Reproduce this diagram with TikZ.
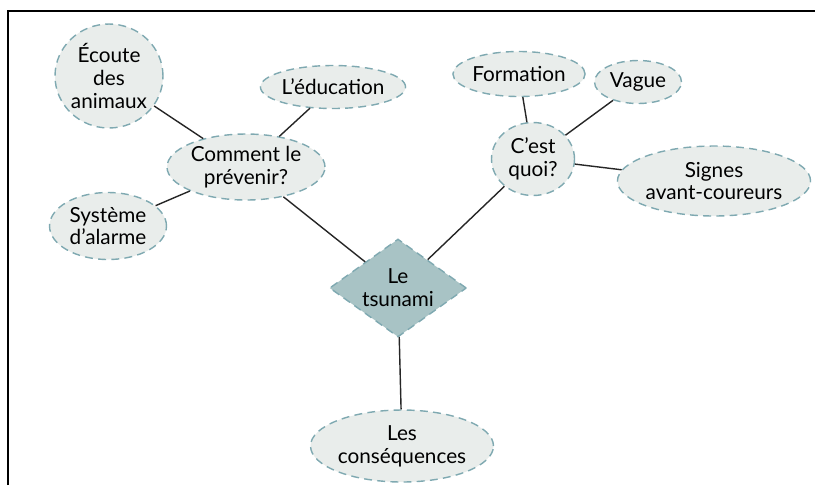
\documentclass[tikz,border=0pt]{standalone}
\usepackage{fontspec}
\setmainfont{Lato}
\usetikzlibrary{shapes.geometric}
\definecolor{bullefond}{HTML}{E9EDEB}
\definecolor{bullebord}{HTML}{7FA9B1}
\definecolor{losangefond}{HTML}{A8C3C5}
\begin{document}
\begin{tikzpicture}[x=0.02cm,y=-0.02cm,
    bulle/.style={ellipse,fill=bullefond,draw=bullebord,line width=0.8pt,dash pattern=on 4.5pt off 3pt,
      align=center,inner sep=0pt,font=\fontsize{11.8}{13}\selectfont},
    losange/.style={diamond,fill=losangefond,draw=bullebord,line width=0.8pt,dash pattern=on 4.5pt off 3pt,
      align=center,inner sep=0pt,aspect=1.4,font=\fontsize{11.8}{13}\selectfont},
    lien/.style={line width=0.8pt,black!85}]
    \useasboundingbox (0,0) rectangle (815,485);
    \draw[line width=1.1pt] (8,485) -- (8,11) -- (815,11);

    % noeuds
    \node[losange,minimum width=2.74cm,minimum height=1.96cm] (tsunami) at (398,288) {Le\\tsunami};
    \node[bulle,minimum width=3.16cm,minimum height=1.32cm] (prevenir) at (246,167) {Comment le\\prévenir?};
    \node[bulle,minimum width=2.16cm,minimum height=2.08cm] (ecoute) at (109,76) {Écoute\\des\\animaux};
    \node[bulle,minimum width=2.42cm,minimum height=0.86cm] (education) at (333,87) {L’éducation};
    \node[bulle,minimum width=2.34cm,minimum height=1.34cm] (alarme) at (108,226) {Système\\d’alarme};
    \node[bulle,minimum width=1.66cm,minimum height=1.46cm] (quoi) at (533,159) {C’est\\quoi?};
    \node[bulle,minimum width=2.54cm,minimum height=0.9cm] (formation) at (519,74) {Formation};
    \node[bulle,minimum width=1.74cm,minimum height=0.86cm] (vague) at (638,82) {Vague};
    \node[bulle,minimum width=3.66cm,minimum height=1.4cm] (signes) at (714,181) {Signes\\avant-coureurs};
    \node[bulle,minimum width=3.66cm,minimum height=1.44cm] (consequences) at (402,446) {Les\\conséquences};

    % liens
    \foreach \a/\b in {ecoute/prevenir,education/prevenir,alarme/prevenir,prevenir/tsunami,
      formation/quoi,vague/quoi,signes/quoi,quoi/tsunami,tsunami/consequences} {
      \draw[lien] (\a) -- (\b);
    }
  \end{tikzpicture}
\end{document}
